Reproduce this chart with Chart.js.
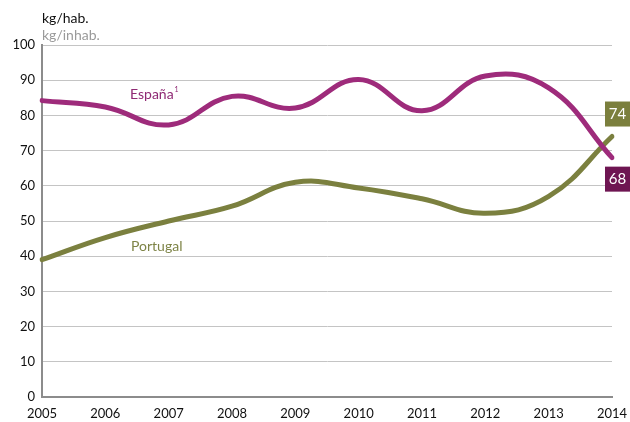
<!DOCTYPE html>
<html><head><meta charset="utf-8">
<script src="https://cdn.jsdelivr.net/npm/chart.js@4"></script>
<style>html,body{margin:0;padding:0;background:#fff}#wrap{width:630px;height:422px}</style>
</head><body><div id="wrap"><canvas id="c" width="630" height="422"></canvas></div>
<script>
const years = ['2005','2006','2007','2008','2009','2010','2011','2012','2013','2014'];
const espana = [84.2, 82.4, 77.3, 85.4, 82.1, 90.2, 81.3, 91.2, 87.8, 68];
const portugal = [39, 45.3, 50, 54.2, 61, 59.4, 56.3, 52.2, 57, 74];
const yTicks = [0,10,20,30,40,50,60,70,80,90,100];
const endLabels = ['74','68'];

const FONT = "Lato, 'Open Sans', sans-serif";
const ESP = '#9e2b7b', POR = '#7b803f';

const overlay = {
  id:'overlay',
  afterDatasetsDraw(chart){
    const {ctx, chartArea:a} = chart;
    ctx.save();
    ctx.font = '14px '+FONT;
    ctx.textBaseline='middle';
    ctx.textAlign='left';
    ctx.fillStyle='#111';
    ctx.fillText('kg/hab.', 42, 18);
    ctx.fillStyle='#9a9a9a';
    ctx.fillText('kg/inhab.', 42, 35);
    ctx.fillStyle='#8f2a74';
    ctx.fillText('España', 130, 94);
    const w = ctx.measureText('España').width;
    ctx.font = '7px '+FONT;
    ctx.fillText('1', 130+w+1, 90);
    ctx.font = '14px '+FONT;
    ctx.fillStyle='#7e8447';
    ctx.fillText('Portugal', 131, 246);
    const ys = chart.scales.y;
    const yP = ys.getPixelForValue(portugal[portugal.length-1]);
    const yE = ys.getPixelForValue(espana[espana.length-1]);
    ctx.textAlign='center';
    ctx.font='15px '+FONT;
    ctx.fillStyle='#7b7f3d';
    ctx.fillRect(605, yP-35, 25, 25);
    ctx.fillStyle='#6e1552';
    ctx.fillRect(605, yE+9, 25, 25);
    ctx.fillStyle='#fff';
    ctx.fillText(endLabels[0], 617.5, yP-22.5);
    ctx.fillText(endLabels[1], 617.5, yE+21.5);
    ctx.restore();
  }
};

new Chart(document.getElementById('c'), {
  type:'line',
  data:{labels:years, datasets:[
    {data:espana, borderColor:ESP, borderWidth:5, tension:0.42, pointRadius:0, fill:false, borderCapStyle:'round'},
    {data:portugal, borderColor:POR, borderWidth:5, tension:0.42, pointRadius:0, fill:false, borderCapStyle:'round'}
  ]},
  options:{
    responsive:false, animation:false,
    layout:{padding:{left:0,right:18,top:45,bottom:0}},
    plugins:{legend:{display:false}, tooltip:{enabled:false}},
    scales:{
      x:{
        grid:{display:false, drawTicks:false},
        border:{display:true, color:'#8c8c8c', width:2},
        ticks:{color:'#111', font:{family:FONT, size:13}, padding:9, maxRotation:0, autoSkip:false},
        afterFit(s){s.height=25; s.paddingRight=0; s.paddingLeft=0;}
      },
      y:{
        min:0, max:100,
        afterBuildTicks(s){s.ticks = yTicks.map(v=>({value:v}));},
        grid:{color:'#c4c4c4', lineWidth:1, drawTicks:false},
        border:{display:true, color:'#8c8c8c', width:2},
        ticks:{color:'#111', font:{family:FONT, size:13}, padding:7},
        afterFit(s){s.width=42;}
      }
    }
  },
  plugins:[overlay]
});
</script></body></html>
